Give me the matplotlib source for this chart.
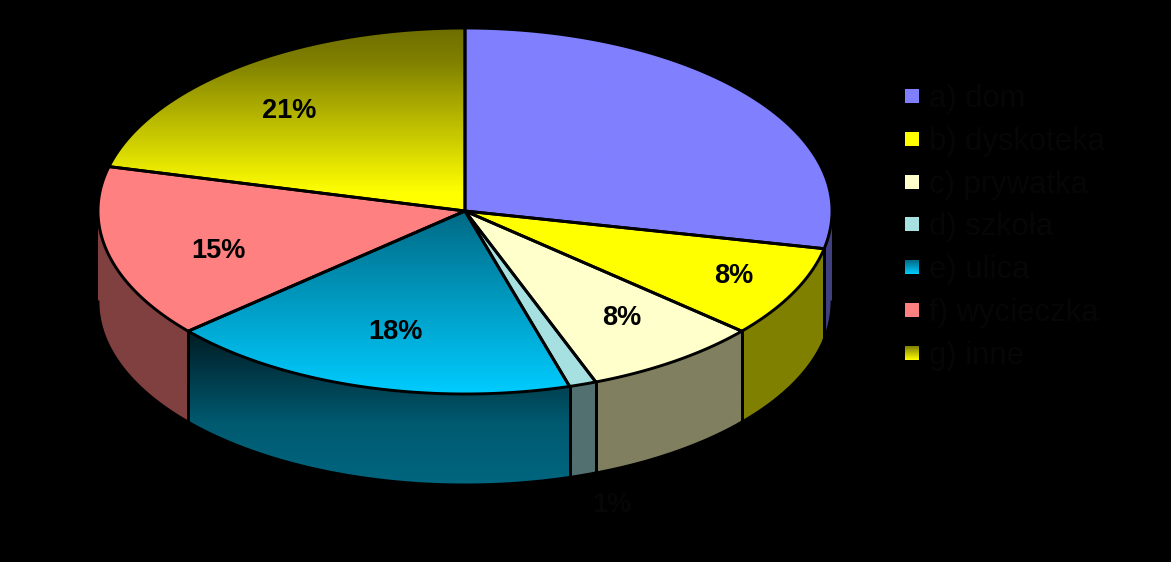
import numpy as np
import matplotlib
matplotlib.use('Agg')
import matplotlib.pyplot as plt
from matplotlib.colors import to_rgb
from matplotlib.patches import Polygon, Rectangle

legend_labels = ['a) dom', 'b) dyskoteka', 'c) prywatka', 'd) szkoła', 'e) ulica', 'f) wycieczka', 'g) inne']
values = [28.3, 8.1, 7.8, 1.2, 18.2, 15.3, 21.1]
pct_labels = ['', '8%', '8%', '1%', '18%', '15%', '21%']

# gradient stops (position 0-1 top to bottom, colour) of each slice's face and of its side
top_colors = [[(0, '#8080ff'), (1, '#8080ff')], [(0, '#ffff00'), (1, '#ffff00')],
              [(0, '#ffffcc'), (1, '#ffffcc')], [(0, '#a6e0e0'), (1, '#a6e0e0')],
              [(0, '#006a85'), (1, '#00ccff')], [(0, '#ff8080'), (1, '#ff8080')],
              [(0, '#6e6e00'), (0.18, '#808000'), (0.9, '#ffff00'), (1, '#ffff00')]]
side_colors = [[(0, '#404080'), (1, '#404080')], [(0, '#808000'), (1, '#808000')],
               [(0, '#808060'), (1, '#808060')], [(0, '#537070'), (1, '#537070')],
               [(0, '#001c24'), (0.6, '#005a70'), (1, '#006680')], [(0, '#804040'), (1, '#804040')],
               [(0, '#808000'), (1, '#808000')]]
legend_colors = [[(0, '#8080ff'), (1, '#8080ff')], [(0, '#ffff00'), (1, '#ffff00')],
                 [(0, '#ffffcc'), (1, '#ffffcc')], [(0, '#a6e0e0'), (1, '#a6e0e0')],
                 [(0, '#006a85'), (1, '#00ccff')], [(0, '#ff8080'), (1, '#ff8080')],
                 [(0, '#808000'), (1, '#ffff00')]]

plt.rcParams['font.family'] = ['Liberation Sans', 'DejaVu Sans']

fig = plt.figure(figsize=(11.71, 5.62), dpi=100, facecolor='black')
ax = fig.add_axes([0, 0, 1, 1])
ax.set_facecolor('black')

cx, cy = 465, 211
rx, ry = 367, 183
depth = 91
line_w = 2.1


def rim(a, extra=0):
    # a in degrees, clockwise from 12 o'clock
    t = np.radians(a)
    return np.column_stack([cx + rx * np.sin(t), cy - ry * np.cos(t) + extra])


def gradient_fill(pts, stops):
    pts = np.asarray(pts)
    pos = [s[0] for s in stops]
    rgb = np.array([to_rgb(s[1]) for s in stops])
    ramp = np.linspace(0, 1, 128)
    img = np.column_stack([np.interp(ramp, pos, rgb[:, k]) for k in range(3)])[:, None, :]
    poly = Polygon(pts, closed=True, facecolor='none', edgecolor='none')
    ax.add_patch(poly)
    im = ax.imshow(img, extent=(pts[:, 0].min(), pts[:, 0].max(), pts[:, 1].max(), pts[:, 1].min()),
                   aspect='auto', interpolation='bilinear', zorder=2)
    im.set_clip_path(poly)


edges = np.concatenate([[0], np.cumsum(values)]) / sum(values) * 360

# sides first, only the front half of the rim shows
for i in range(len(values)):
    a0, a1 = max(edges[i], 90), min(edges[i + 1], 270)
    if a1 <= a0:
        continue
    arc = np.linspace(a0, a1, 80)
    pts = np.vstack([rim(arc), rim(arc[::-1], depth)])
    gradient_fill(pts, side_colors[i])
    ax.plot(*rim(arc, depth).T, color='black', lw=line_w, zorder=3)
    for a in (a0, a1):
        if 90 < a < 270:
            p = rim(np.array([a]))[0]
            ax.plot([p[0], p[0]], [p[1], p[1] + depth], color='black', lw=line_w, zorder=3)

# faces
for i in range(len(values)):
    arc = np.linspace(edges[i], edges[i + 1], 120)
    pts = np.vstack([[cx, cy], rim(arc)])
    gradient_fill(pts, top_colors[i])
    ax.add_patch(Polygon(pts, closed=True, facecolor='none', edgecolor='black', lw=line_w,
                         joinstyle='round', zorder=4))

label_pos = [None, (734, 276), (622, 318), (612, 505), (395, 332), (218, 251), (289, 111)]
for lab, pos in zip(pct_labels, label_pos):
    if lab:
        ax.text(pos[0], pos[1], lab, fontsize=19.5, fontweight='bold', color='black' if lab != '1%' else '#060606',
                ha='center', va='center', zorder=5)

# legend
legend_y = [96, 139, 182, 224, 267, 310, 353]
for lab, col, y in zip(legend_labels, legend_colors, legend_y):
    if col[0][1] == col[1][1]:
        ax.add_patch(Rectangle((905, y - 7), 14, 14, facecolor=col[0][1], edgecolor='none', zorder=5))
    else:
        gradient_fill([(905, y - 7), (919, y - 7), (919, y + 7), (905, y + 7)], col)
    ax.text(929, y + 3, lab, fontsize=22.3, color='#060606', ha='left', va='center', zorder=5)

ax.set_xlim(0, 1171)
ax.set_ylim(562, 0)
ax.axis('off')
fig.savefig('out.png', dpi=100, facecolor='black')
